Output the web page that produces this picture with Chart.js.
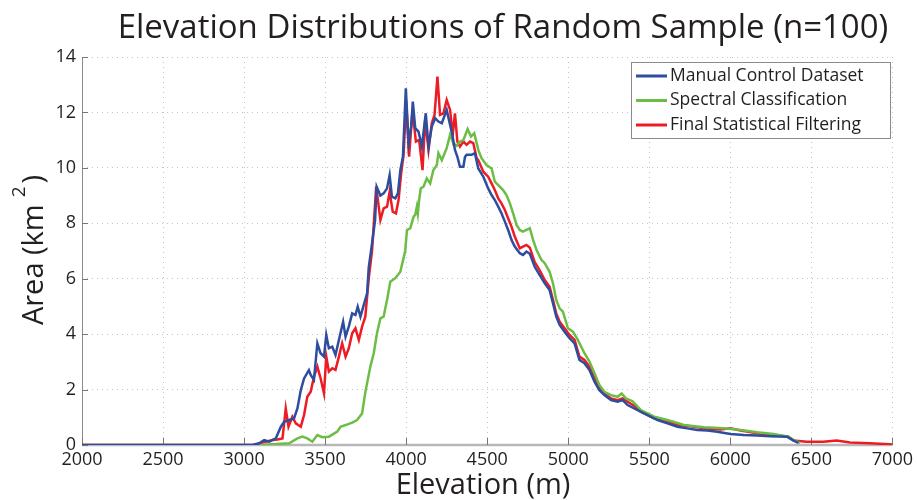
<!DOCTYPE html>
<html>
<head>
<meta charset="utf-8">
<script src="https://cdn.jsdelivr.net/npm/chart.js@4.4.1/dist/chart.umd.min.js"></script>
<style>
  html, body { margin: 0; padding: 0; background: #fff; }
  #wrap { width: 917px; height: 500px; position: relative; }
</style>
</head>
<body>
<div id="wrap"><canvas id="elevChart"></canvas></div>
<script>
// Elevation (m) / area (km^2) pairs
var manualElev = [2000, 3050, 3093, 3124, 3155, 3196, 3227, 3247, 3278, 3308, 3329, 3350, 3370, 3400, 3411, 3431, 3452, 3472, 3493, 3507, 3523, 3544, 3564, 3585, 3611, 3626, 3646, 3667, 3687, 3701, 3718, 3738, 3759, 3769, 3790, 3808, 3818, 3841, 3861, 3882, 3898, 3912, 3933, 3949, 3964, 3980, 3998, 4015, 4031, 4041, 4056, 4076, 4097, 4121, 4138, 4158, 4179, 4199, 4220, 4250, 4271, 4285, 4301, 4316, 4332, 4353, 4363, 4373, 4404, 4424, 4445, 4476, 4506, 4527, 4547, 4568, 4588, 4609, 4629, 4650, 4670, 4701, 4721, 4742, 4763, 4793, 4824, 4855, 4885, 4906, 4926, 4947, 4977, 5008, 5039, 5069, 5100, 5131, 5162, 5192, 5223, 5264, 5305, 5335, 5366, 5428, 5489, 5551, 5612, 5673, 5735, 5796, 5857, 5919, 6000, 6083, 6165, 6246, 6349, 6390, 6420];
var manualArea = [0, 0, 0.06, 0.18, 0.12, 0.24, 0.66, 0.84, 0.9, 0.96, 1.32, 1.98, 2.4, 2.7, 2.53, 2.35, 3.67, 3.31, 3.19, 3.97, 3.49, 3.55, 3.25, 3.79, 4.45, 3.91, 4.27, 4.75, 4.69, 4.99, 4.63, 5.05, 5.47, 6.4, 7.3, 8.1, 9.32, 9.0, 9.08, 9.26, 9.74, 8.96, 8.9, 9.08, 9.92, 10.4, 12.87, 10.89, 11.49, 12.39, 11.43, 11.31, 10.77, 11.97, 10.77, 11.49, 11.79, 11.67, 11.61, 12.09, 11.55, 11.19, 10.65, 10.4, 10.04, 10.04, 10.4, 10.47, 10.47, 10.53, 9.98, 9.68, 9.26, 9.02, 8.84, 8.6, 8.36, 8.06, 7.76, 7.4, 7.16, 6.92, 6.86, 6.98, 6.9, 6.43, 6.13, 5.83, 5.59, 5.11, 4.63, 4.33, 4.09, 3.85, 3.67, 3.07, 2.95, 2.71, 2.28, 1.98, 1.8, 1.62, 1.56, 1.62, 1.44, 1.26, 1.08, 0.9, 0.78, 0.66, 0.6, 0.54, 0.52, 0.48, 0.4, 0.36, 0.34, 0.32, 0.3, 0.16, 0.08];

var spectralElev = [3100, 3175, 3278, 3329, 3360, 3390, 3421, 3452, 3482, 3523, 3575, 3595, 3626, 3667, 3697, 3728, 3748, 3779, 3800, 3820, 3841, 3861, 3871, 3882, 3902, 3933, 3964, 3994, 4005, 4025, 4046, 4056, 4066, 4072, 4080, 4090, 4107, 4127, 4148, 4168, 4189, 4199, 4220, 4250, 4271, 4291, 4312, 4332, 4353, 4379, 4400, 4420, 4445, 4465, 4496, 4527, 4547, 4568, 4598, 4619, 4640, 4660, 4681, 4701, 4721, 4742, 4763, 4783, 4804, 4834, 4855, 4885, 4906, 4926, 4947, 4967, 4998, 5029, 5059, 5100, 5131, 5162, 5192, 5223, 5264, 5305, 5329, 5356, 5397, 5448, 5530, 5612, 5714, 5837, 5960, 6063, 6165, 6267, 6359, 6390, 6430];
var spectralArea = [0, 0.03, 0.06, 0.24, 0.3, 0.24, 0.12, 0.36, 0.28, 0.3, 0.48, 0.66, 0.72, 0.81, 0.9, 1.14, 1.9, 2.83, 3.31, 4.03, 4.57, 4.63, 4.93, 5.23, 5.89, 6.02, 6.25, 7.0, 7.76, 7.82, 8.24, 8.3, 8.6, 8.36, 8.84, 9.26, 9.32, 9.62, 9.44, 9.92, 10.1, 10.53, 10.28, 10.71, 11.19, 10.89, 10.8, 10.95, 11.0, 11.4, 11.13, 11.25, 10.65, 10.35, 10.1, 9.98, 9.5, 9.38, 9.2, 9.02, 8.72, 8.36, 7.94, 7.76, 7.7, 7.76, 7.82, 7.4, 7.04, 6.68, 6.56, 6.25, 5.83, 5.23, 4.93, 4.81, 4.21, 4.09, 3.79, 3.31, 3.01, 2.59, 2.17, 1.92, 1.8, 1.74, 1.86, 1.68, 1.58, 1.26, 1.02, 0.9, 0.72, 0.64, 0.6, 0.54, 0.46, 0.4, 0.3, 0.18, 0.08];

var filteredElev = [2000, 3070, 3093, 3134, 3175, 3206, 3237, 3257, 3274, 3298, 3319, 3350, 3370, 3390, 3411, 3431, 3452, 3472, 3493, 3507, 3523, 3544, 3564, 3585, 3605, 3626, 3646, 3667, 3687, 3708, 3728, 3748, 3769, 3790, 3815, 3841, 3861, 3882, 3898, 3917, 3937, 3953, 3969, 3984, 4000, 4018, 4039, 4060, 4080, 4101, 4117, 4138, 4158, 4175, 4193, 4209, 4230, 4250, 4271, 4287, 4301, 4316, 4332, 4353, 4373, 4394, 4414, 4435, 4445, 4476, 4506, 4527, 4547, 4568, 4588, 4609, 4629, 4650, 4670, 4701, 4721, 4742, 4763, 4793, 4824, 4855, 4885, 4906, 4926, 4947, 4977, 5008, 5039, 5069, 5100, 5131, 5162, 5192, 5223, 5264, 5305, 5335, 5366, 5417, 5448, 5530, 5612, 5673, 5755, 5837, 5939, 6000, 6063, 6165, 6267, 6359, 6390, 6472, 6574, 6656, 6738, 6861, 6980, 7000];
var filteredArea = [0, 0, 0.06, 0.12, 0.18, 0.2, 0.24, 1.32, 0.66, 1.02, 0.78, 0.66, 1.08, 1.74, 1.92, 2.46, 2.83, 2.41, 1.86, 3.19, 2.65, 2.77, 2.71, 3.19, 3.67, 3.19, 3.49, 4.03, 4.21, 3.79, 4.27, 4.63, 6.0, 7.04, 9.32, 8.12, 8.54, 8.6, 9.14, 8.42, 8.36, 8.84, 9.8, 10.47, 12.39, 10.4, 12.09, 10.95, 11.01, 9.92, 11.73, 10.65, 11.61, 11.91, 13.29, 11.91, 11.97, 12.45, 12.09, 11.19, 11.97, 10.95, 10.77, 10.95, 10.83, 10.95, 10.89, 10.35, 10.28, 9.86, 9.68, 9.44, 9.2, 8.9, 8.72, 8.48, 8.18, 7.88, 7.52, 7.1, 7.16, 7.22, 7.12, 6.6, 6.3, 5.95, 5.71, 5.23, 4.75, 4.45, 4.21, 3.97, 3.79, 3.19, 3.07, 2.83, 2.41, 2.1, 1.86, 1.68, 1.62, 1.68, 1.56, 1.38, 1.2, 0.96, 0.84, 0.72, 0.68, 0.6, 0.56, 0.6, 0.52, 0.42, 0.36, 0.3, 0.16, 0.12, 0.12, 0.16, 0.09, 0.06, 0.03, 0.02];

var seriesNames = ['Manual Control Dataset', 'Spectral Classification', 'Final Statistical Filtering'];

function toPoints(xs, ys) {
	return xs.map(function (x, i) { return { x: x, y: ys[i] }; });
}

var fontFam = '"Open Sans", "DejaVu Sans", sans-serif';

// title, axis labels, axis lines, tick marks and the boxed legend
var decor = {
	id: 'decor',
	beforeDatasetsDraw: function (chart) {
		var ctx = chart.ctx, a = chart.chartArea;
		var xs = chart.scales.x, ys = chart.scales.y;
		ctx.save();
		ctx.strokeStyle = '#8a8a8a';
		ctx.lineWidth = 1;
		ctx.beginPath();
		ctx.moveTo(a.left + 0.5, a.top);
		ctx.lineTo(a.left + 0.5, a.bottom);
		ctx.stroke();
		ctx.strokeStyle = '#b8b8b8';
		ctx.lineWidth = 2.5;
		ctx.beginPath();
		ctx.moveTo(a.left, a.bottom);
		ctx.lineTo(a.right, a.bottom);
		ctx.stroke();
		ctx.strokeStyle = '#777';
		ctx.lineWidth = 1;
		ctx.beginPath();
		xs.ticks.forEach(function (t) {
			var px = Math.round(xs.getPixelForValue(t.value)) + 0.5;
			ctx.moveTo(px, a.bottom);
			ctx.lineTo(px, a.bottom - 7);
		});
		ys.ticks.forEach(function (t) {
			var py = Math.round(ys.getPixelForValue(t.value)) + 0.5;
			ctx.moveTo(a.left, py);
			ctx.lineTo(a.left + 6, py);
		});
		ctx.stroke();
		ctx.restore();
	},
	afterDraw: function (chart) {
		var ctx = chart.ctx;
		ctx.save();
		ctx.fillStyle = '#231f20';
		ctx.textBaseline = 'alphabetic';

		// title
		ctx.font = '33px ' + fontFam;
		ctx.textAlign = 'center';
		ctx.fillText('Elevation Distributions of Random Sample (n=100)', 503, 38);

		// x label
		ctx.font = '29px ' + fontFam;
		ctx.fillText('Elevation (m)', 483, 494);

		// y label with raised 2
		ctx.textAlign = 'left';
		var p1 = 'Area (km', p2 = '2', p3 = ')';
		ctx.font = '29px ' + fontFam;
		var w1 = ctx.measureText(p1).width, w3 = ctx.measureText(p3).width;
		ctx.font = '19px ' + fontFam;
		var w2 = ctx.measureText(p2).width;
		var gap = 7;
		var total = w1 + gap + w2 + 3 + w3;
		ctx.translate(43, 250 + total / 2);
		ctx.rotate(-Math.PI / 2);
		ctx.font = '29px ' + fontFam;
		ctx.fillText(p1, 0, 0);
		ctx.font = '19px ' + fontFam;
		ctx.fillText(p2, w1 + gap, -18);
		ctx.font = '29px ' + fontFam;
		ctx.fillText(p3, w1 + gap + w2 + 3, 0);
		ctx.setTransform(1, 0, 0, 1, 0, 0);

		// legend box
		var bx = 631, by = 62, bw = 259, bh = 76;
		ctx.fillStyle = '#fff';
		ctx.fillRect(bx, by, bw, bh);
		ctx.strokeStyle = '#8a8a8a';
		ctx.lineWidth = 1;
		ctx.strokeRect(bx + 0.5, by + 0.5, bw, bh);
		ctx.font = '17.5px ' + fontFam;
		ctx.textBaseline = 'middle';
		chart.data.datasets.forEach(function (ds, i) {
			var ly = 76 + i * 24.5;
			ctx.strokeStyle = ds.borderColor;
			ctx.lineWidth = 3;
			ctx.beginPath();
			ctx.moveTo(636, ly);
			ctx.lineTo(667, ly);
			ctx.stroke();
			ctx.fillStyle = '#231f20';
			ctx.fillText(ds.label, 670, ly);
		});
		ctx.restore();
	}
};

var ctx = document.getElementById('elevChart').getContext('2d');
var elevChart = new Chart(ctx, {
	type: 'line',
	data: {
		datasets: [{
			label: seriesNames[0],
			data: toPoints(manualElev, manualArea),
			borderColor: '#2e4d9f'
		}, {
			label: seriesNames[1],
			data: toPoints(spectralElev, spectralArea),
			borderColor: '#6cbd45'
		}, {
			label: seriesNames[2],
			data: toPoints(filteredElev, filteredArea),
			borderColor: '#ed1c24'
		}]
	},
	options: {
		responsive: true,
		maintainAspectRatio: false,
		animation: false,
		layout: { padding: { top: 57, right: 21, left: 0, bottom: 0 } },
		elements: {
			point: { radius: 0 },
			line: { borderWidth: 2.5, tension: 0, fill: false }
		},
		plugins: {
			legend: { display: false },
			title: { display: false },
			tooltip: { enabled: false }
		},
		scales: {
			x: {
				type: 'linear',
				min: 2000,
				max: 7000,
				afterFit: function (s) { s.height = 55; },
				ticks: {
					stepSize: 500, padding: 4, color: '#231f20', maxRotation: 0, autoSkip: false,
					font: { family: fontFam, size: 18 },
					callback: function (v) { return String(v); }
				},
				grid: { color: '#c4c4c4', lineWidth: 1, drawTicks: false },
				border: { display: false, dash: [1, 4] }
			},
			y: {
				min: 0,
				max: 14,
				afterFit: function (s) { s.width = 82; },
				ticks: { stepSize: 2, padding: 6, color: '#231f20', font: { family: fontFam, size: 18 } },
				grid: { color: '#c4c4c4', lineWidth: 1, drawTicks: false },
				border: { display: false, dash: [1, 4] }
			}
		}
	},
	plugins: [decor]
});
</script>
</body>
</html>
